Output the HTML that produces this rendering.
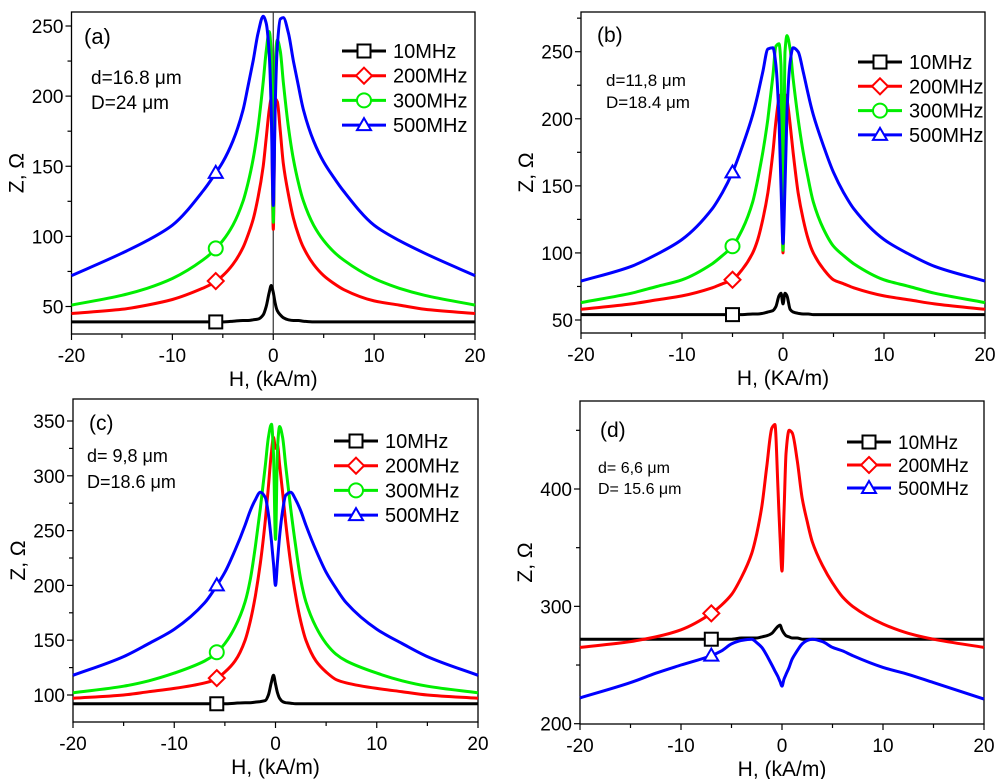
<!DOCTYPE html>
<html><head><meta charset="utf-8"><style>
body{margin:0;background:#fff}
svg{display:block;font-family:"Liberation Sans",Arial,sans-serif}
</style></head><body>
<svg id="fig" width="1000" height="779" viewBox="0 0 1000 779"></svg>
<script>
const H = [-20,-15,-12.5,-10,-7,-6,-5,-4,-3,-2.5,-2,-1.5,-1,-0.7,-0.4,-0.2,0,0.2,0.4,0.7,1,1.5,2,2.5,3,4,5,6,7,10,12.5,15,20];
// panel a
const a10  = [39,39,39,39,39,39,39,39.5,40,40,40.5,41,44,50,60,65,60,52,47,44,42,40.5,40,40,39.5,39,39,39,39,39,39,39,39];
const a200 = [45,48,51,55,63,66.5,72,80,92,101,112,128,150,170,190,198,105,198,196,175,152,130,113,101,92,80,72,66.5,62,54,51,48,45];
const a300 = [51,58,63,70,83,89,97,108,125,138,155,178,210,232,246,230,110,225,240,232,210,178,155,138,125,108,97,89,83,70,63,58,51];
const a500 = [72,88,97,108,132,142,153,168,190,207,225,245,257,252,230,190,122,195,235,255,256,245,225,207,190,168,153,142,132,108,97,88,72];
// panel b
const b10  = [54,54,54,54,54,54,54,54,54.5,54.5,55,56,57,60,68,70,62,70,68,58,56,55,54.5,54.5,54,54,54,54,54,54,54,54,54];
const b200 = [58,62,65,68,74,77,80,88,100,110,125,145,175,198,215,218,100,218,214,196,175,145,125,110,100,88,80,77,74,68,65,62,58];
const b300 = [63,70,75,80,92,98,105,118,138,155,175,200,232,254,256,240,102,250,262,252,230,200,175,155,138,118,105,98,92,80,75,70,63];
const b500 = [79,90,99,110,133,145,160,180,203,218,235,252,253,240,200,150,107,150,205,242,253,250,235,218,203,180,160,145,133,110,99,90,79];
// panel c
const c10  = [92,92,92,92,92,92,92,92.5,93,93,93.5,94,95,100,112,118,110,102,97,94,93,92.5,92,92,92,92,92,92,92,92,92,92,92];
const c200 = [97,100,103,106,111,114,121,131,150,167,190,220,260,290,322,335,325,328,310,285,258,220,190,167,150,131,121,114,111,106,103,100,97];
const c300 = [102,108,113,120,131,137,147,162,185,205,235,270,310,335,347,320,242,325,345,335,310,270,235,205,185,162,147,137,131,120,113,108,102];
const c500 = [118,135,147,160,184,197,212,232,255,268,278,285,280,265,240,220,200,222,245,268,282,285,278,268,255,232,212,197,184,160,147,135,118];
// panel d
const d10  = [272,272,272,272,272,272,272,273,273,273,274,275,277,280,283,284,280,277,275,274,273,273,272,272,272,272,272,272,272,272,272,272,272];
const d200 = [265,270,274,280,294,301,310,325,345,362,385,420,452,455,400,360,330,380,430,450,448,425,392,372,355,335,320,308,300,285,277,272,265];
const d500 = [222,235,243,250,258,262,268,271,272,269,265,258,250,245,240,236,232,238,242,248,255,262,268,271,272,270,265,262,258,248,242,235,221];
const xTicks = [-20,-10,0,10,20];
const yTicksA = [50,100,150,200,250];
const yTicksB = [50,100,150,200,250];
const yTicksC = [100,150,200,250,300,350];
const yTicksD = [200,300,400];
const legA = ["10MHz","200MHz","300MHz","500MHz"];
const legD = ["10MHz","200MHz","500MHz"];

const NS="http://www.w3.org/2000/svg";
const svg=document.getElementById('fig');
function mk(tag,attrs,parent){const e=document.createElementNS(NS,tag);for(const k in attrs)e.setAttribute(k,attrs[k]);(parent||svg).appendChild(e);return e;}
const COL={k:"#000",r:"#ff0000",g:"#00ee00",b:"#0000ff"};

function marker(g,type,x,y,c){
  let e;
  if(type==='sq') e=mk('rect',{x:x-6.5,y:y-6.5,width:13,height:13,fill:'#fff',stroke:c,'stroke-width':2},g);
  else if(type==='di') e=mk('polygon',{points:`${x},${y-8} ${x+8},${y} ${x},${y+8} ${x-8},${y}`,fill:'#fff',stroke:c,'stroke-width':2},g);
  else if(type==='ci') e=mk('circle',{cx:x,cy:y,r:7,fill:'#fff',stroke:c,'stroke-width':2},g);
  else e=mk('polygon',{points:`${x},${y-7} ${x+7},${y+5} ${x-7},${y+5}`,fill:'#fff',stroke:c,'stroke-width':2},g);
  
  
}
function interp(xs,ys,x){for(let i=0;i<xs.length-1;i++){if(x>=xs[i]&&x<=xs[i+1]){const t=(x-xs[i])/(xs[i+1]-xs[i]);return ys[i]+t*(ys[i+1]-ys[i]);}}return ys[0];}
// monotone cubic path (Fritsch-Carlson) in pixel space
function monoPath(px,py){
  const n=px.length,d=[],m=[];
  for(let i=0;i<n-1;i++)d.push((py[i+1]-py[i])/(px[i+1]-px[i]));
  m[0]=d[0];m[n-1]=d[n-2];
  for(let i=1;i<n-1;i++){if(d[i-1]*d[i]<=0)m[i]=0;else{const w1=2*(px[i+1]-px[i])+(px[i]-px[i-1]),w2=(px[i+1]-px[i])+2*(px[i]-px[i-1]);m[i]=(w1+w2)/(w1/d[i-1]+w2/d[i]);}}
  let s=`M${px[0].toFixed(1)},${py[0].toFixed(1)}`;
  for(let i=0;i<n-1;i++){const h=(px[i+1]-px[i])/3;
    s+=`C${(px[i]+h).toFixed(1)},${(py[i]+m[i]*h).toFixed(1)} ${(px[i+1]-h).toFixed(1)},${(py[i+1]-m[i+1]*h).toFixed(1)} ${px[i+1].toFixed(1)},${py[i+1].toFixed(1)}`;}
  return s;
}

function panel(p){
  const g=mk('g',{});
  
  
  const sx=v=>p.x0+(v+20)/40*(p.x1-p.x0);
  const sy=v=>p.yA+(v-p.vA)/(p.vB-p.vA)*(p.yB-p.yA);
  const ymin=p.vA+(p.bot-p.yA)/(p.yB-p.yA)*(p.vB-p.vA);
  const ymax=p.vA+(p.top-p.yA)/(p.yB-p.yA)*(p.vB-p.vA);
  const fr=mk('rect',{x:p.x0,y:p.top,width:p.x1-p.x0,height:p.bot-p.top,fill:'none',stroke:'#000','stroke-width':1.3},g);
  
  for(let v=-20;v<=20;v+=5){const x=sx(v);const major=v%10===0;mk('line',{x1:x,y1:p.bot,x2:x,y2:p.bot+(major?6:4),stroke:'#000','stroke-width':1.2},g);}
  xTicks.forEach(v=>{const t=mk('text',{x:sx(v),y:p.bot+28,'text-anchor':'middle','font-size':19},g);t.textContent=v;
    });
  const step=p.ticks[1]-p.ticks[0];
  for(let v=Math.ceil(ymin/(step/2))*(step/2);v<=ymax;v+=step/2){const y=sy(v);const major=Math.abs(v%step)<1e-6;mk('line',{x1:p.x0,y1:y,x2:p.x0-(major?6:4),y2:y,stroke:'#000','stroke-width':1.2},g);}
  p.ticks.forEach(v=>{const t=mk('text',{x:p.x0-8,y:sy(v)+7,'text-anchor':'end','font-size':19},g);t.textContent=v;
    });
  const xt=mk('text',{x:(p.x0+p.x1)/2,y:p.bot+52,'text-anchor':'middle','font-size':21},g);xt.textContent=p.xl;
  
  const yt=mk('text',{x:0,y:0,'text-anchor':'middle','font-size':21,transform:`translate(${p.x0-48},${(p.top+p.bot)/2}) rotate(-90)`},g);yt.textContent="Z, Ω";
  
  if(p.vline){mk('line',{x1:sx(0),y1:p.top,x2:sx(0),y2:p.bot,stroke:'#333','stroke-width':1.2},g);}
  p.series.forEach(s=>{
    const pl=mk('path',{d:monoPath(H.map(sx),s.v.map(sy)),fill:'none',stroke:s.c,'stroke-width':3,'stroke-linejoin':'round'},g);
    
  });
  p.series.forEach(s=>{marker(g,s.m,sx(p.mx),sy(interp(H,s.v,p.mx)),s.c);});
  p.series.forEach((s,i)=>{
    const y=p.ly+i*p.ld;
    const ln=mk('line',{x1:p.lx,y1:y,x2:p.lx+44,y2:y,stroke:s.c,'stroke-width':3},g);
    
    marker(g,s.m,p.lx+22,y,s.c);
    const t=mk('text',{x:p.lx+51,y:y+7,'font-size':p.lf},g);t.textContent=p.leg[i];
    
  });
  p.notes.forEach(n=>{const t=mk('text',{x:n[0],y:n[1],'font-size':n[3]},g);t.textContent=n[2];
    });
}

panel({id:'a',x0:71.5,x1:475,top:12,bot:334,yA:26,vA:250,yB:306.5,vB:50,ticks:yTicksA,xl:"H, (kA/m)",vline:true,mx:-5.7,
  series:[{v:a10,c:COL.k,m:'sq',n:'10mhz'},{v:a200,c:COL.r,m:'di',n:'200mhz'},{v:a300,c:COL.g,m:'ci',n:'300mhz'},{v:a500,c:COL.b,m:'tr',n:'500mhz'}],
  leg:legA,lx:342,ly:51,ld:24.7,lf:20,notes:[[84,44,"(a)",22],[91,84,"d=16.8 μm",19],[91,109,"D=24 μm",19]]});
panel({id:'b',x0:581,x1:985,top:12,bot:333,yA:51.7,vA:250,yB:320,vB:50,ticks:yTicksB,xl:"H, (KA/m)",mx:-5,
  series:[{v:b10,c:COL.k,m:'sq',n:'10mhz'},{v:b200,c:COL.r,m:'di',n:'200mhz'},{v:b300,c:COL.g,m:'ci',n:'300mhz'},{v:b500,c:COL.b,m:'tr',n:'500mhz'}],
  leg:legA,lx:858,ly:62,ld:24.3,lf:20,notes:[[597,42,"(b)",21],[606,86,"d=11,8 μm",17],[606,108,"D=18.4 μm",17]]});
panel({id:'c',x0:73,x1:478,top:399,bot:722,yA:421,vA:350,yB:695,vB:100,ticks:yTicksC,xl:"H, (kA/m)",mx:-5.8,
  series:[{v:c10,c:COL.k,m:'sq',n:'10mhz'},{v:c200,c:COL.r,m:'di',n:'200mhz'},{v:c300,c:COL.g,m:'ci',n:'300mhz'},{v:c500,c:COL.b,m:'tr',n:'500mhz'}],
  leg:legA,lx:334,ly:441,ld:24.7,lf:20,notes:[[89,430,"(c)",21],[87,462,"d= 9,8 μm",18],[87,488,"D=18.6 μm",18]]});
panel({id:'d',x0:580,x1:984,top:401,bot:724,yA:489,vA:400,yB:723.7,vB:200,ticks:yTicksD,xl:"H, (kA/m)",mx:-7,
  series:[{v:d10,c:COL.k,m:'sq',n:'10mhz'},{v:d200,c:COL.r,m:'di',n:'200mhz'},{v:d500,c:COL.b,m:'tr',n:'500mhz'}],
  leg:legD,lx:847,ly:442,ld:23,lf:19,notes:[[600,437,"(d)",21],[598,473,"d= 6,6 μm",16],[598,494,"D= 15.6 μm",16]]});
</script>
</body></html>
